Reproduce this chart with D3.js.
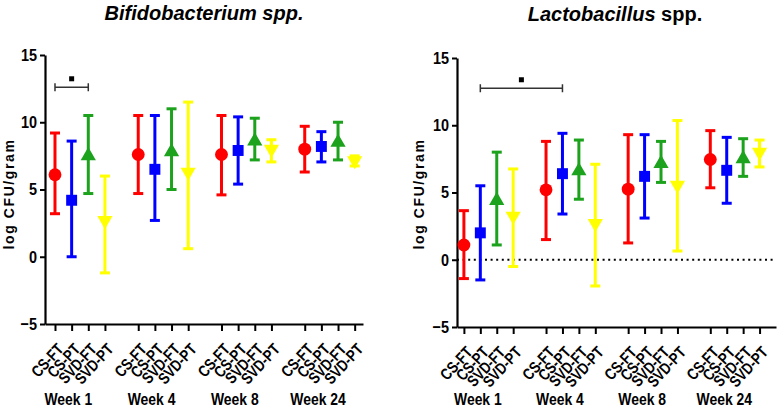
<!DOCTYPE html>
<html>
<head>
<meta charset="utf-8">
<script src="https://cdn.jsdelivr.net/npm/d3@7"></script>
<style>
  body { margin: 0; background: #fff; }
  svg { display: block; }
  text { font-family: "Liberation Sans", Arial, sans-serif; }
</style>
</head>
<body>
<div class="chart"></div>
<script>
var groups = ["CS-FT", "CS-PT", "SVD-FT", "SVD-PT"];
var weeks = ["Week 1", "Week 4", "Week 8", "Week 24"];
var colors = ["#ff0000", "#0000ff", "#1ca21c", "#ffff00"];
var yTicks = [-5, 0, 5, 10, 15];

// Bifidobacterium spp. (week1 x4, week4 x4, week8 x4, week24 x4)
var bifidoMean = [6.1, 4.2, 7.5, 2.7,  7.6, 6.5, 7.8, 6.3,  7.6, 7.9, 8.6, 8.0,  8.0, 8.2, 8.5, 7.15];
var bifidoLow  = [3.2, 0.0, 4.7, -1.2, 4.7, 2.7, 5.0, 0.6,  4.6, 5.4, 7.2, 7.05, 6.3, 7.05, 7.2, 6.75];
var bifidoHigh = [9.2, 8.6, 10.5, 6.0, 10.5, 10.5, 11.0, 11.5, 10.5, 10.4, 10.3, 8.7, 9.7, 9.3, 10.0, 7.5];

// Lactobacillus spp.
var lactoMean = [1.1, 2.0, 4.4, 3.25,  5.2, 6.4, 6.6, 2.7,  5.25, 6.2, 7.15, 5.55,  7.45, 6.65, 7.5, 8.0];
var lactoLow  = [-1.4, -1.5, 1.1, -0.5, 1.5, 3.4, 4.5, -1.95, 1.25, 3.1, 5.75, 0.65, 5.35, 4.2, 6.2, 6.9];
var lactoHigh = [3.65, 5.5, 8.0, 6.75, 8.8, 9.4, 8.9, 7.1,  9.3, 9.3, 8.8, 10.35, 9.6, 9.1, 9.0, 8.9];

var svgWidth = 778;
var svgHeight = 410;

var svg = d3.select(".chart").append("svg")
  .attr("width", svgWidth)
  .attr("height", svgHeight);

var symbols = [
  d3.symbol().type(d3.symbolCircle).size(130),
  d3.symbol().type(d3.symbolSquare).size(120),
  d3.symbol().type(d3.symbolTriangle).size(100),
  d3.symbol().type(d3.symbolTriangle).size(100)
];

function drawPanel(cfg) {
  var x = d3.scaleLinear().domain(cfg.xDomain).range(cfg.xRange);
  var y = d3.scaleLinear().domain([-5, 15]).range(cfg.yRange);
  var g = svg.append("g");

  var rows = cfg.mean.map(function(m, i) {
    return { pos: (i % 4) + 5 * Math.floor(i / 4), grp: i % 4, mean: m, lo: cfg.low[i], hi: cfg.high[i] };
  });

  // title
  var title = g.append("text")
    .attr("x", cfg.titleX)
    .attr("y", cfg.titleY)
    .attr("text-anchor", "middle")
    .style("font-weight", "bold")
    .style("font-size", "20px");
  cfg.title.forEach(function(t) {
    title.append("tspan").style("font-style", t[1] ? "italic" : "normal").text(t[0]);
  });

  // y axis label
  g.append("text")
    .attr("transform", "translate(" + cfg.labelX + "," + cfg.labelY + ") rotate(-90)")
    .attr("text-anchor", "middle")
    .style("font-weight", "bold")
    .style("font-size", "14px")
    .style("letter-spacing", "1.6px")
    .text("log CFU/gram");

  // dotted zero line
  if (cfg.zeroLine) {
    g.append("line")
      .attr("x1", cfg.xRange[0]).attr("x2", cfg.xRange[1])
      .attr("y1", y(0)).attr("y2", y(0))
      .attr("stroke", "#000")
      .attr("stroke-width", 2)
      .attr("stroke-dasharray", "2,3.6");
  }

  // axes
  var yAxis = g.append("g")
    .attr("transform", "translate(" + cfg.xRange[0] + ",0)")
    .call(d3.axisLeft(y).tickValues(yTicks).tickSize(5).tickSizeOuter(0).tickPadding(0));
  yAxis.selectAll("text")
    .attr("x", null)
    .attr("transform", "translate(-8,0) scale(0.85,1)")
    .style("font-weight", "bold")
    .style("font-size", "17px")
    .attr("fill", "#000");

  var xAxis = g.append("g")
    .attr("transform", "translate(0," + y(-5) + ")")
    .call(d3.axisBottom(x)
      .tickValues(rows.map(function(d) { return d.pos; }))
      .tickFormat(function(d) { return groups[d % 5]; })
      .tickSize(7).tickSizeOuter(0));
  xAxis.selectAll("text")
    .style("font-weight", "bold")
    .style("font-size", "16px")
    .attr("fill", "#000")
    .attr("text-anchor", "end")
    .attr("y", null)
    .attr("dy", null)
    .attr("transform", "translate(9,26) rotate(-47) scale(0.82,1)");

  [yAxis, xAxis].forEach(function(a) {
    a.select(".domain").attr("stroke-width", 2.2);
    a.selectAll(".tick line").attr("stroke-width", 2);
  });

  // week labels
  g.selectAll(".week")
    .data(weeks)
    .enter().append("text")
    .attr("transform", function(d, i) { return "translate(" + x(i * 5 + cfg.weekOffset) + ",405) scale(0.82,1)"; })
    .attr("text-anchor", "middle")
    .style("font-weight", "bold")
    .style("font-size", "17px")
    .text(function(d) { return d; });

  // error bars
  var bars = g.selectAll(".bar")
    .data(rows)
    .enter().append("g")
    .attr("stroke", function(d) { return colors[d.grp]; })
    .attr("stroke-width", 3);
  bars.append("line")
    .attr("x1", function(d) { return x(d.pos); })
    .attr("x2", function(d) { return x(d.pos); })
    .attr("y1", function(d) { return y(d.lo); })
    .attr("y2", function(d) { return y(d.hi); });
  bars.append("line")
    .attr("x1", function(d) { return x(d.pos) - 5; })
    .attr("x2", function(d) { return x(d.pos) + 5; })
    .attr("y1", function(d) { return y(d.hi); })
    .attr("y2", function(d) { return y(d.hi); });
  bars.append("line")
    .attr("x1", function(d) { return x(d.pos) - 5; })
    .attr("x2", function(d) { return x(d.pos) + 5; })
    .attr("y1", function(d) { return y(d.lo); })
    .attr("y2", function(d) { return y(d.lo); });

  // markers
  g.selectAll(".mark")
    .data(rows)
    .enter().append("path")
    .attr("d", function(d) { return symbols[d.grp](); })
    .attr("transform", function(d) {
      return "translate(" + x(d.pos) + "," + y(d.mean) + ")" + (d.grp === 3 ? " rotate(180)" : "");
    })
    .attr("fill", function(d) { return colors[d.grp]; });

  // significance bracket
  var b = cfg.bracket;
  var bx1 = x(b[0]), bx2 = x(b[1]), by = y(b[2]);
  g.append("path")
    .attr("d", "M" + bx1 + "," + (by - 4) + "V" + (by + 4) + "M" + bx1 + "," + by + "H" + bx2 + "M" + bx2 + "," + (by - 4) + "V" + (by + 4))
    .attr("stroke", "#333")
    .attr("stroke-width", 1.5)
    .attr("fill", "none");
  g.append("rect")
    .attr("x", (bx1 + bx2) / 2 - 2.5)
    .attr("y", by - 11)
    .attr("width", 5)
    .attr("height", 5)
    .attr("fill", "#000");
}

drawPanel({
  mean: bifidoMean, low: bifidoLow, high: bifidoHigh,
  xDomain: [-0.6, 18.5], xRange: [45, 363], yRange: [324, 55],
  title: [["Bifidobacterium spp.", true]], titleX: 204, titleY: 20,
  labelX: 14, labelY: 194, weekOffset: 0.8, zeroLine: false,
  bracket: [0, 2, 12.6]
});

drawPanel({
  mean: lactoMean, low: lactoLow, high: lactoHigh,
  xDomain: [-0.42, 19], xRange: [457, 776], yRange: [327, 58],
  title: [["Lactobacillus", true], [" spp.", false]], titleX: 615, titleY: 21,
  labelX: 424, labelY: 194, weekOffset: 0.85, zeroLine: true,
  bracket: [1, 6, 12.75]
});
</script>
</body>
</html>
